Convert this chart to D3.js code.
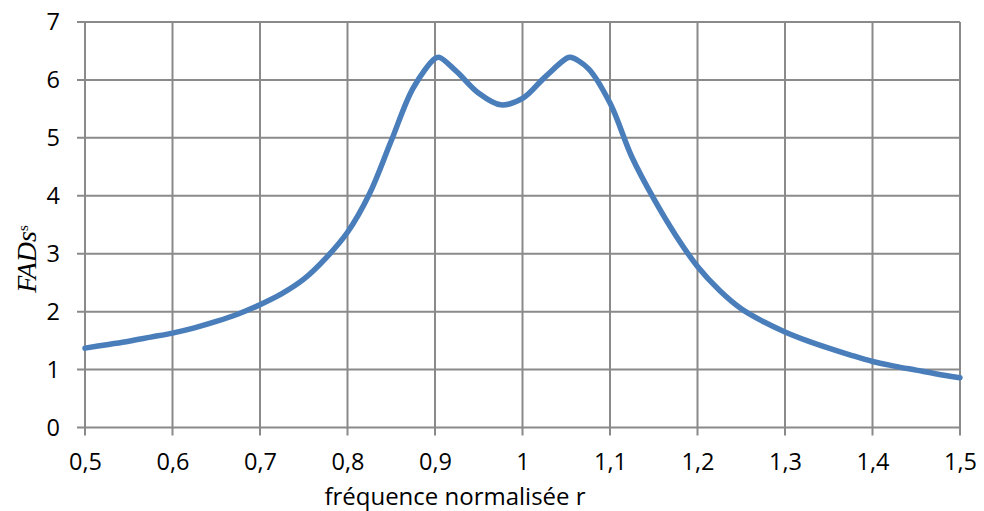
<!DOCTYPE html>
<html>
<head>
<meta charset="utf-8">
<script src="https://cdn.jsdelivr.net/npm/d3@7/dist/d3.min.js"></script>
<style>
body { margin: 0; background: #fff; }
svg text { font-family: "Open Sans", sans-serif; fill: #000; }
</style>
</head>
<body>
<svg id="chart"></svg>
<script>
var screen = {width: 984, height: 511}
var margin = {top: 22, right: 24, bottom: 83.5, left: 85};

// valeurs
var rValues = [0.5, 0.525, 0.55, 0.575, 0.6, 0.625, 0.65, 0.675, 0.7, 0.725,
               0.75, 0.775, 0.8, 0.825, 0.85, 0.875, 0.9, 0.905, 0.925, 0.95,
               0.975, 1.0, 1.025, 1.05, 1.055, 1.075, 1.1, 1.125, 1.15, 1.175,
               1.2, 1.225, 1.25, 1.275, 1.3, 1.325, 1.35, 1.375, 1.4, 1.425,
               1.45, 1.475, 1.5];
var fadValues = [1.37, 1.43, 1.49, 1.56, 1.63, 1.72, 1.83, 1.96, 2.12, 2.31,
                 2.56, 2.92, 3.37, 4.03, 4.95, 5.86, 6.37, 6.39, 6.14, 5.77,
                 5.57, 5.68, 6.04, 6.37, 6.39, 6.2, 5.6, 4.67, 3.95, 3.32,
                 2.78, 2.37, 2.05, 1.83, 1.65, 1.5, 1.37, 1.25, 1.14, 1.06,
                 0.99, 0.92, 0.86];
var xTicks = [0.5, 0.6, 0.7, 0.8, 0.9, 1.0, 1.1, 1.2, 1.3, 1.4, 1.5];
var yTicks = [0, 1, 2, 3, 4, 5, 6, 7];

var width = screen.width - margin.left - margin.right;
var height = screen.height - margin.top - margin.bottom;

var svg = d3.select("#chart")
    .attr("width", screen.width)
    .attr("height", screen.height);

var xScale = d3.scaleLinear().domain([0.5, 1.5]).range([0, width]);
var yScale = d3.scaleLinear().domain([0, 7]).range([height, 0]);

var g = svg.append("g")
    .attr("transform", "translate(" + margin.left + "," + margin.top + ")");

var fmt = function(d) { return String(d).replace(".", ","); };

// grille
g.append("g").selectAll("line.h").data(yTicks).enter().append("line")
    .attr("x1", -8).attr("x2", width)
    .attr("y1", function(d) { return yScale(d); })
    .attr("y2", function(d) { return yScale(d); })
    .attr("stroke", "#8a8a8a").attr("stroke-width", 2);
g.append("g").selectAll("line.v").data(xTicks).enter().append("line")
    .attr("y1", 0).attr("y2", height + 8)
    .attr("x1", function(d) { return xScale(d); })
    .attr("x2", function(d) { return xScale(d); })
    .attr("stroke", "#8a8a8a").attr("stroke-width", 2);

// axes (labels only)
var xAxis = d3.axisBottom(xScale).tickValues(xTicks).tickFormat(fmt).tickSize(0).tickPadding(26);
var yAxis = d3.axisLeft(yScale).tickValues(yTicks).tickFormat(d3.format("d")).tickSize(0).tickPadding(25);

g.append("g").attr("transform", "translate(0," + height + ")").call(xAxis)
    .call(function(a) { a.select(".domain").remove(); })
    .selectAll("text").style("font-size", "23.5px").style("font-family", "'Open Sans', sans-serif");
g.append("g").call(yAxis)
    .call(function(a) { a.select(".domain").remove(); })
    .selectAll("text").style("font-size", "23.5px").style("font-family", "'Open Sans', sans-serif");

// courbe
var line = d3.line()
    .x(function(d, i) { return xScale(rValues[i]); })
    .y(function(d) { return yScale(d); })
    .curve(d3.curveCatmullRom.alpha(0.5));

g.append("path")
    .datum(fadValues)
    .attr("d", line)
    .attr("fill", "none")
    .attr("stroke", "#4a7ebb")
    .attr("stroke-width", 5.5)
    .attr("stroke-linecap", "round")
    .attr("stroke-linejoin", "round");

// titres
svg.append("text")
    .attr("x", 455)
    .attr("y", 505)
    .attr("text-anchor", "middle")
    .style("font-size", "24px")
    .text("fréquence normalisée r");

var yl = svg.append("text")
    .attr("transform", "translate(36,259) rotate(-90)")
    .attr("text-anchor", "middle")
    .style("font-family", "'Liberation Serif', serif")
    .style("font-style", "italic")
    .style("font-size", "28px");
yl.append("tspan").text("FADs");
yl.append("tspan").attr("dy", "-0.55em").style("font-size", "15px").style("font-style", "normal").text("s");
</script>
</body>
</html>
